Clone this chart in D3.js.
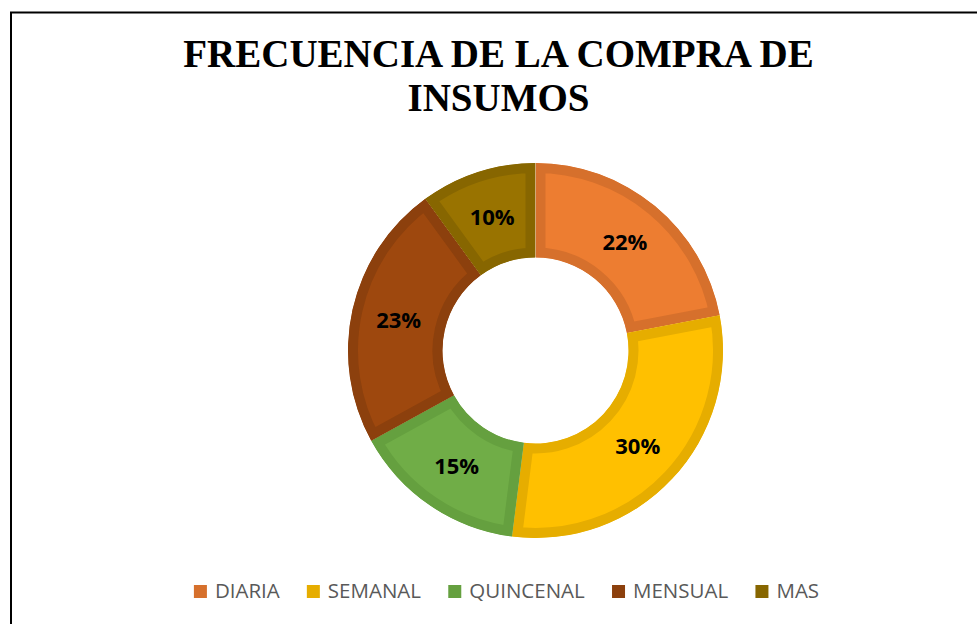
<!DOCTYPE html>
<html>
<head>
<meta charset="utf-8">
<script src="https://cdn.jsdelivr.net/npm/d3@7"></script>
<style>
  html, body { margin: 0; padding: 0; background: #ffffff; overflow: hidden; }
  svg { display: block; }
</style>
</head>
<body>
<script>
// Data
const categories = ["DIARIA", "SEMANAL", "QUINCENAL", "MENSUAL", "MAS"];
const values = [22, 30, 15, 23, 10];
const fillColors = ["#ED7D31", "#FFC000", "#70AD47", "#9E480E", "#997300"];
const edgeColors = ["#D6702C", "#E6AD00", "#65A03F", "#8C400D", "#876600"];
const titleLines = ["FRECUENCIA DE LA COMPRA DE", "INSUMOS"];

// Measurements
const svgWidth = 977;
const svgHeight = 624;
const cx = 535.5;
const cy = 350.5;
const outerRadius = 187.5;
const innerRadius = 93;
const edgeWidth = 10;

const svg = d3
  .select("body")
  .append("svg")
  .attr("width", svgWidth)
  .attr("height", svgHeight)
  .attr("viewBox", `0 0 ${svgWidth} ${svgHeight}`);

const defs = svg.append("defs");

// Frame (runs off the right and bottom edges)
svg
  .append("rect")
  .attr("x", 11)
  .attr("y", 12.5)
  .attr("width", 990)
  .attr("height", 700)
  .attr("fill", "#ffffff")
  .attr("stroke", "#000000")
  .attr("stroke-width", 2);

// Title
svg
  .append("g")
  .selectAll("text")
  .data(titleLines)
  .enter()
  .append("text")
  .attr("x", 498.5)
  .attr("y", (_, i) => 67 + i * 43.5)
  .attr("text-anchor", "middle")
  .style("font", "bold 39px 'Liberation Serif', 'DejaVu Serif', serif")
  .style("fill", "#000000")
  .text((d) => d);

// Donut
const pie = d3
  .pie()
  .sort(null)
  .value((d) => d.value);

const data = categories.map((name, i) => ({
  name,
  value: values[i],
  fill: fillColors[i],
  edge: edgeColors[i],
}));

const arcs = pie(data);

const arc = d3.arc().innerRadius(innerRadius).outerRadius(outerRadius);

const chart = svg.append("g").attr("transform", `translate(${cx}, ${cy})`);

arcs.forEach((a, i) => {
  defs
    .append("clipPath")
    .attr("id", `sliceClip${i}`)
    .append("path")
    .attr("d", arc(a));
});

chart
  .selectAll("path.slice")
  .data(arcs)
  .enter()
  .append("path")
  .attr("class", "slice")
  .attr("d", arc)
  .attr("fill", (d) => d.data.fill)
  .attr("stroke", (d) => d.data.edge)
  .attr("stroke-width", edgeWidth * 2)
  .attr("stroke-linejoin", "miter")
  .attr("clip-path", (_, i) => `url(#sliceClip${i})`);

// Labels
chart
  .selectAll("text.label")
  .data(arcs)
  .enter()
  .append("text")
  .attr("class", "label")
  .attr("transform", (d) => `translate(${arc.centroid(d)})`)
  .attr("text-anchor", "middle")
  .attr("dy", "0.36em")
  .style("font", "bold 22px 'Open Sans', 'DejaVu Sans', sans-serif")
  .style("fill", "#000000")
  .text((d) => `${d.data.value}%`);

// Legend
const legend = svg.append("g");
const swatch = 13;
const swatchGap = 8;
const itemGap = 27;

const items = legend
  .selectAll("g.item")
  .data(data)
  .enter()
  .append("g")
  .attr("class", "item");

items
  .append("rect")
  .attr("width", swatch)
  .attr("height", swatch)
  .attr("y", -swatch + 0.5)
  .attr("fill", (d) => d.edge);

items
  .append("text")
  .attr("x", swatch + swatchGap)
  .style("font", "20.5px 'Open Sans', 'DejaVu Sans', sans-serif")
  .style("fill", "#595959")
  .text((d) => d.name);

let offset = 0;
items.each(function () {
  const w = this.getBBox().width;
  d3.select(this).attr("transform", `translate(${offset}, 0)`);
  offset += w + itemGap;
});
const legendWidth = offset - itemGap;
legend.attr("transform", `translate(${506.5 - legendWidth / 2}, 597.5)`);
</script>
</body>
</html>
